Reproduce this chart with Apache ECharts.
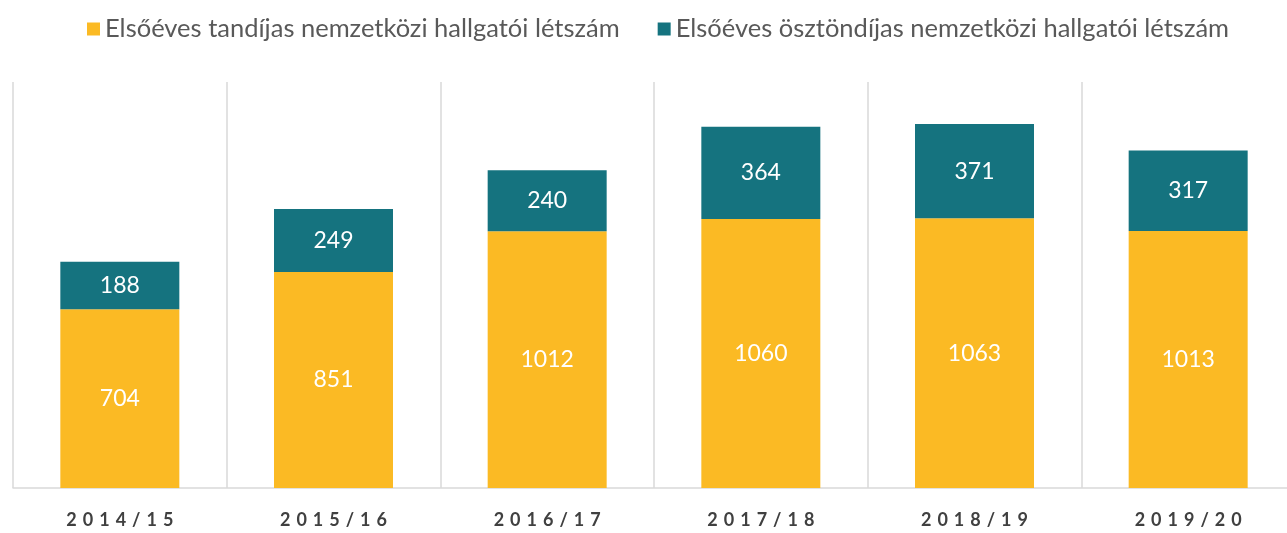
<!DOCTYPE html>
<html>
<head>
<meta charset="utf-8">
<script src="https://cdn.jsdelivr.net/npm/echarts@6/dist/echarts.min.js"></script>
<style>
  html, body { margin: 0; padding: 0; background: #ffffff; }
  #main { width: 1287px; height: 533px; }
</style>
</head>
<body>
<div id="main"></div>
<script>
// tanévek
const categories = ['2014/15', '2015/16', '2016/17', '2017/18', '2018/19', '2019/20']
// tandíjas és ösztöndíjas létszám
const tandijas = [704, 851, 1012, 1060, 1063, 1013]
const osztondijas = [188, 249, 240, 364, 371, 317]

const chart = echarts.init(document.getElementById('main'))

chart.setOption({
  animation: false,
  textStyle: { fontFamily: 'Lato' },
  legend: {
    top: 11,
    left: 82,
    itemWidth: 13,
    itemHeight: 13,
    itemGap: 38,
    icon: 'rect',
    textStyle: { color: '#595959', fontSize: 25.5, fontFamily: 'Lato' }
  },
  grid: { left: 13, width: 1282, top: 82, bottom: 45, outerBoundsMode: 'none' },
  xAxis: {
    type: 'category',
    data: categories,
    axisLine: { lineStyle: { color: '#d9d9d9', width: 1.5 } },
    axisTick: { show: false },
    splitLine: { show: true, interval: 0, lineStyle: { color: '#d9d9d9', width: 1.5 } },
    axisLabel: {
      margin: 23,
      color: '#404040',
      fontSize: 18,
      fontWeight: 'bold',
      fontFamily: 'Lato',
      // ritkított betűköz
      formatter: v => v.split('').join('\u2004')
    }
  },
  yAxis: {
    type: 'value',
    min: 0,
    max: 1600,
    show: false,
    splitLine: { show: false }
  },
  series: [
    {
      name: 'Elsőéves tandíjas nemzetközi hallgatói létszám',
      type: 'bar',
      stack: 'total',
      barWidth: 119,
      data: tandijas,
      itemStyle: { color: '#fbba24' },
      label: { show: true, position: 'inside', color: '#ffffff', fontSize: 23, fontFamily: 'Lato' }
    },
    {
      name: 'Elsőéves ösztöndíjas nemzetközi hallgatói létszám',
      type: 'bar',
      stack: 'total',
      barWidth: 119,
      data: osztondijas,
      itemStyle: { color: '#15737f' },
      label: { show: true, position: 'inside', color: '#ffffff', fontSize: 23, fontFamily: 'Lato' }
    }
  ]
})
</script>
</body>
</html>
